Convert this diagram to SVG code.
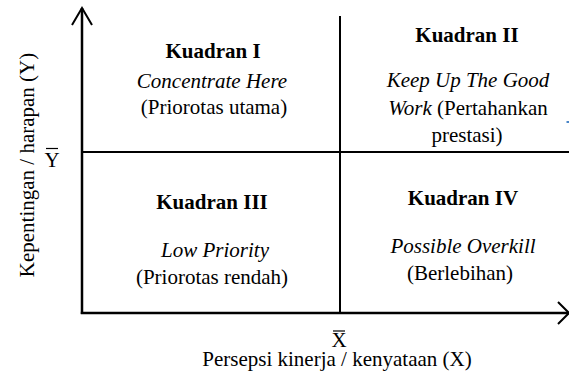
<svg xmlns="http://www.w3.org/2000/svg" width="569" height="374" viewBox="0 0 569 374">
<style>
text{font-family:"Liberation Serif","Times New Roman",serif;font-size:21px;fill:#000;text-anchor:middle}
.b{font-weight:bold}
.i{font-style:italic}
.ax{stroke:#000;stroke-width:2.5;fill:none}
.ln{stroke:#000;stroke-width:2;fill:none}
.ah{stroke:#000;stroke-width:2;fill:none;stroke-linejoin:miter}
</style>
<rect width="569" height="374" fill="#fff"/>
<g id="connectors">
<line class="ax" x1="82" y1="8" x2="82" y2="314"/>
<polyline class="ah" points="72,25 82,8 92,25"/>
<line class="ax" x1="80.8" y1="313" x2="569" y2="313"/>
<polyline class="ah" points="558,302 569,313 558,324"/>
<line class="ln" x1="340" y1="16" x2="340" y2="313"/>
<line class="ln" x1="82" y1="152" x2="569" y2="152"/>
</g>
<g id="kuadran1" font-family="Liberation Serif, Times New Roman, serif">
<text class="b" x="213" y="58" font-family="Liberation Serif, serif">Kuadran I</text>
<text class="i" x="212" y="88" font-family="Liberation Serif, serif">Concentrate Here</text>
<text x="214" y="114" font-family="Liberation Serif, serif">(Priorotas utama)</text>
</g>
<g id="kuadran2" font-family="Liberation Serif, Times New Roman, serif">
<text class="b" x="467" y="42" font-family="Liberation Serif, serif">Kuadran II</text>
<text class="i" x="468" y="87" font-family="Liberation Serif, serif">Keep Up The Good</text>
<text x="468" y="115" font-family="Liberation Serif, serif"><tspan class="i">Work</tspan> (Pertahankan</text>
<text x="467" y="142" font-family="Liberation Serif, serif">prestasi)</text>
</g>
<g id="kuadran3" font-family="Liberation Serif, Times New Roman, serif">
<text class="b" x="212" y="209" font-family="Liberation Serif, serif">Kuadran III</text>
<text class="i" x="215" y="257" font-family="Liberation Serif, serif">Low Priority</text>
<text x="212" y="284" font-family="Liberation Serif, serif">(Priorotas rendah)</text>
</g>
<g id="kuadran4" font-family="Liberation Serif, Times New Roman, serif">
<text class="b" x="463" y="205" font-family="Liberation Serif, serif">Kuadran IV</text>
<text class="i" x="463" y="253" font-family="Liberation Serif, serif">Possible Overkill</text>
<text x="460" y="280" font-family="Liberation Serif, serif">(Berlebihan)</text>
</g>
<g id="labels" font-family="Liberation Serif, Times New Roman, serif">
<text x="52" y="167">Y</text>
<line x1="46" y1="148.5" x2="58" y2="148.5" stroke="#000" stroke-width="1.2"/>
<text x="339" y="347">X</text>
<line x1="333" y1="331" x2="345" y2="331" stroke="#000" stroke-width="1.2"/>
<text x="337" y="366">Persepsi kinerja / kenyataan (X)</text>
<text transform="translate(34,165) rotate(-90)">Kepentingan / harapan (Y)</text>
</g>
<rect x="566.5" y="121" width="2.5" height="2" fill="#4a86c8"/>
</svg>
